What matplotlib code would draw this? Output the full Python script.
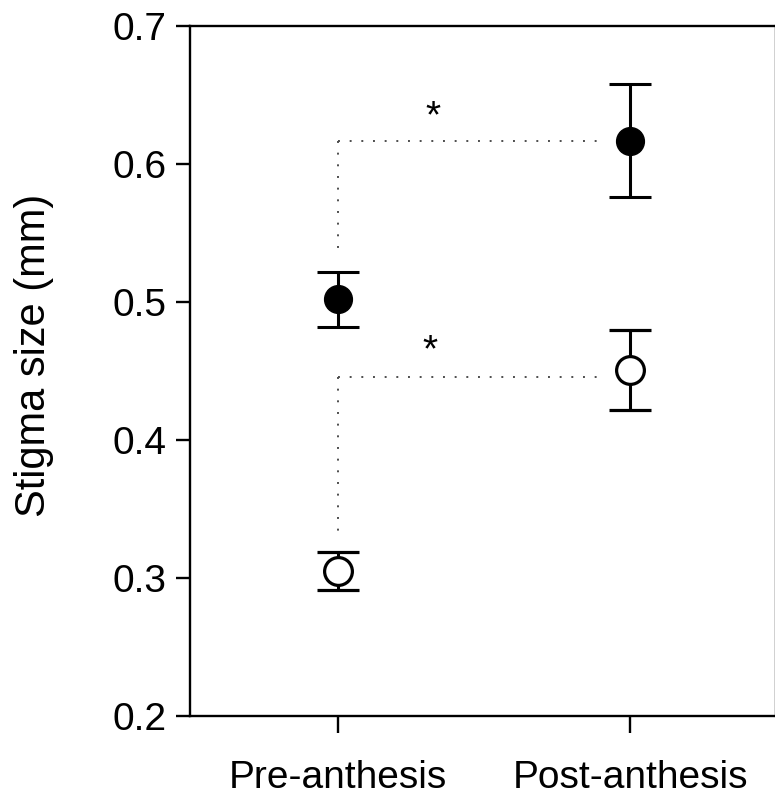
import numpy as np
import matplotlib
matplotlib.use("Agg")
import matplotlib.pyplot as plt

plt.rcParams['font.family'] = ['Liberation Sans', 'DejaVu Sans']

# Data
#--------------------------------------------------------------------
stages = ["Pre-anthesis", "Post-anthesis"]
xpos = [1, 2]

filled_mean = [0.502, 0.617]
filled_err = [0.020, 0.041]

open_mean = [0.305, 0.451]
open_err = [0.014, 0.029]

# dotted brackets (level, lower end of vertical part) and star positions
bracket_level = [0.617, 0.446]
bracket_bottom = [0.535, 0.333]
bracket_end = [1.91, 1.91]
star_x = [1.325, 1.315]
star_y = [0.634, 0.464]

yticks = [0.2, 0.3, 0.4, 0.5, 0.6, 0.7]

# Figure
#--------------------------------------------------------------------
fig = plt.figure(figsize=(7.75, 7.99), dpi=100)
ax = fig.add_axes([190 / 775, 83 / 799, 586 / 775, 690 / 799])

for lev, bot, end in zip(bracket_level, bracket_bottom, bracket_end):
    ax.plot([xpos[0], end], [lev, lev], color='0.3', lw=1.4,
            linestyle=(0, (1, 5)), zorder=1)
    ax.plot([xpos[0], xpos[0]], [lev, bot], color='0.3', lw=1.4,
            linestyle=(0, (1, 5)), zorder=1)

ax.errorbar(xpos, filled_mean, yerr=filled_err, fmt='o', color='black',
            markersize=20, capsize=15, capthick=2.2, elinewidth=2.2,
            markerfacecolor='black', markeredgecolor='black', zorder=3)
ax.errorbar(xpos, open_mean, yerr=open_err, fmt='o', color='black',
            markersize=20, capsize=15, capthick=2.2, elinewidth=2.2,
            markerfacecolor='white', markeredgecolor='black',
            markeredgewidth=2.3, zorder=3)

for sx, sy in zip(star_x, star_y):
    ax.text(sx, sy, "*", ha='center', va='center', fontsize=28)

ax.set_xlim(0.493, 2.5)
ax.set_ylim(0.2, 0.7)
ax.set_yticks(yticks)
ax.set_yticklabels(["%.1f" % t for t in yticks])
ax.set_xticks(xpos)
ax.set_xticklabels(stages)
ax.set_ylabel("Stigma size (mm)", fontsize=30)
ax.yaxis.set_label_coords(-0.232, 0.522)

for s in ax.spines.values():
    s.set_linewidth(1.7)
ax.tick_params(axis='y', direction='out', length=10, width=1.7,
               labelsize=28, pad=7)
ax.tick_params(axis='x', direction='out', length=12, width=1.7,
               labelsize=28, pad=20)

fig.savefig("out.png", dpi=100)
